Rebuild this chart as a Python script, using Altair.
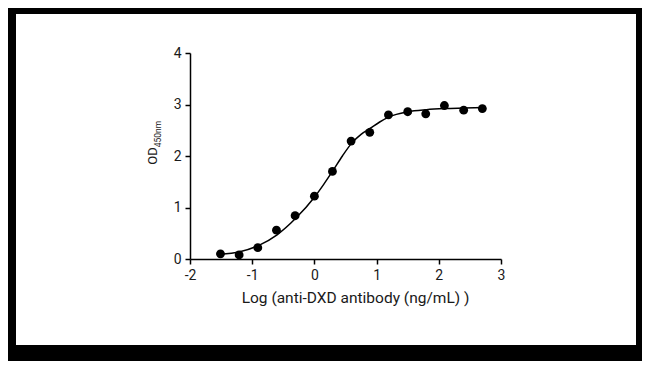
import altair as alt
import pandas as pd

# Measured points: log10 concentration (ng/mL) vs OD450
log_conc = [-1.51, -1.21, -0.91, -0.61, -0.31, 0.0, 0.29, 0.59, 0.89, 1.19, 1.50, 1.79, 2.09, 2.40, 2.70]
od450 = [0.10, 0.08, 0.22, 0.56, 0.84, 1.22, 1.70, 2.29, 2.46, 2.80, 2.86, 2.82, 2.98, 2.89, 2.92]

# Fitted curve
fit_x = [-1.52, -1.2, -0.9, -0.6, -0.3, 0.0, 0.15, 0.3, 0.45, 0.6, 0.75, 0.9, 1.05, 1.2, 1.5, 1.8, 2.1, 2.4, 2.72]
fit_y = [0.09, 0.14, 0.26, 0.47, 0.79, 1.20, 1.45, 1.72, 2.00, 2.25, 2.42, 2.54, 2.66, 2.76, 2.86, 2.90, 2.92, 2.93, 2.94]

x_ticks = [-2, -1, 0, 1, 2, 3]
y_ticks = [0, 1, 2, 3, 4]

pts = pd.DataFrame({"x": log_conc, "y": od450})
fit = pd.DataFrame({"x": fit_x, "y": fit_y})
one = pd.DataFrame({"a": [0]})

FONT = "Roboto"
TXT = "#1a1a1a"
xscale = alt.Scale(domain=[-2, 3], nice=False, zero=False)
yscale = alt.Scale(domain=[0, 4], nice=False)

label_expr = "datum.value < 0 ? '-' + abs(datum.value) : '' + datum.value"

axis_common = dict(
    grid=False, domainColor="black", domainWidth=1.5, tickColor="black",
    tickWidth=1.5, tickSize=5, labelFont=FONT, labelFontSize=14,
    labelColor=TXT, labelPadding=4, zindex=1, labelExpr=label_expr,
    labelFlush=False, labelOverlap=False,
)
xaxis = alt.Axis(values=x_ticks, title="Log (anti-DXD antibody (ng/mL) )",
                 titleFont=FONT, titleFontSize=15.5, titleFontWeight="normal",
                 titleColor=TXT, titleY=31, titleX=165, **axis_common)
yaxis = alt.Axis(values=y_ticks, title="", **axis_common)

frame = alt.Chart(one).mark_rect(color="white").encode(
    x=alt.value(-174), x2=alt.value(446), y=alt.value(-39), y2=alt.value(292)
)

line = alt.Chart(fit).mark_line(color="black", strokeWidth=1.5, interpolate="monotone").encode(
    x=alt.X("x:Q", scale=xscale, axis=xaxis),
    y=alt.Y("y:Q", scale=yscale, axis=yaxis),
)

dots = alt.Chart(pts).mark_point(filled=True, color="black", size=78, opacity=1, shape="circle").encode(
    x=alt.X("x:Q", scale=xscale),
    y=alt.Y("y:Q", scale=yscale),
)

od = alt.Chart(one).mark_text(angle=270, font=FONT, fontSize=13, color=TXT,
                              align="center", baseline="middle").encode(
    x=alt.value(-37), y=alt.value(103), text=alt.value("OD")
)
sub = alt.Chart(one).mark_text(angle=270, font=FONT, fontSize=8.5, color=TXT,
                               align="center", baseline="middle").encode(
    x=alt.value(-32), y=alt.value(81), text=alt.value("450nm")
)

chart = alt.layer(frame, line, dots, od, sub).properties(
    width=311, height=206,
    autosize=alt.AutoSizeParams(type="none"),
    padding={"left": 182, "top": 45, "right": 141, "bottom": 102},
).configure(background="black").configure_view(strokeWidth=0)

chart.save("out.html", embed_options={"renderer": "svg", "actions": False})
